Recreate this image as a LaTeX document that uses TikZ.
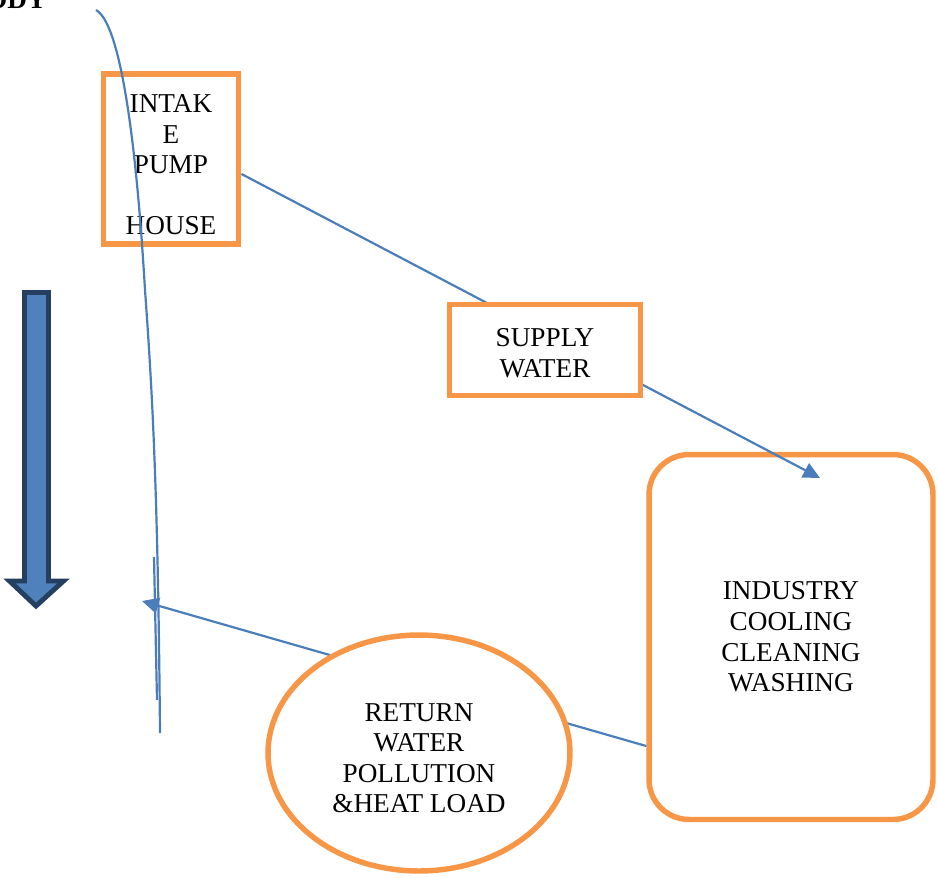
\documentclass[tikz,border=0pt]{standalone}
\usepackage{fontspec}
\setmainfont{Liberation Serif}
\usetikzlibrary{shapes.geometric,arrows.meta}

\definecolor{boxorange}{HTML}{F79646}
\definecolor{flowblue}{HTML}{4A7EBB}
\definecolor{arrowfill}{HTML}{4F81BD}
\definecolor{arrowedge}{HTML}{243F60}

\tikzset{
    unit/.style={draw=boxorange, line width=3.1pt, align=center, inner sep=2pt,
        font=\fontsize{15.5}{17.4}\selectfont},
    flow/.style={draw=flowblue, line width=1.25pt},
    flowarrow/.style={flow, -{Triangle[length=9.5pt,width=9pt]}}
}

\begin{document}
\begin{tikzpicture}[x=0.02cm,y=-0.02cm]
    \useasboundingbox (0,0) rectangle (937,877);

    % Boxes
    \node[unit, rectangle, fill=white, rounded corners=0.8cm, minimum width=5.68cm, minimum height=7.3cm] (industry) at (791,637) {INDUSTRY\\COOLING\\CLEANING\\WASHING};
    \node[unit, rectangle, minimum width=2.71cm, minimum height=3.4cm] (intake) at (171,159) {\rule{0pt}{17pt}INTAK\\E\\PUMP\\~\\HOUSE};

    % Flows
    \coordinate (inlet) at (820,478);
    \coordinate (outfall) at (142,601);
    \draw[flowarrow] (intake.-12) -- (inlet);
    \draw[flowarrow] (industry.217) -- (outfall);

    \node[unit, rectangle, fill=white, minimum width=3.82cm, minimum height=1.82cm] (supply) at (545,350) {\rule{0pt}{14pt}SUPPLY\\WATER};
    \node[unit, ellipse, fill=white, inner sep=0pt, minimum width=6.04cm, minimum height=4.72cm] (return) at (419,753) {\rule{0pt}{16pt}RETURN\\WATER\\POLLUTION\\\&HEAT LOAD};

    % River
    \draw[flow] (96,10) .. controls (118,22) and (135,120) .. (145,290) .. controls (153,400) and (158,500) .. (160,733);
    \draw[flow] (154,557) -- (157,700);

    % Flow direction
    \draw[fill=arrowfill, draw=arrowedge, line width=2.8pt, line join=miter]
        (24.5,292.5) -- (48.5,292.5) -- (48.5,581) -- (63.5,581) -- (36,606) -- (9.5,581) -- (24.5,581) -- cycle;

    \node[anchor=base east, inner sep=0pt, font=\fontsize{15.5}{17.4}\selectfont\bfseries] (waterbody) at (47,8) {ODY};
\end{tikzpicture}
\end{document}
